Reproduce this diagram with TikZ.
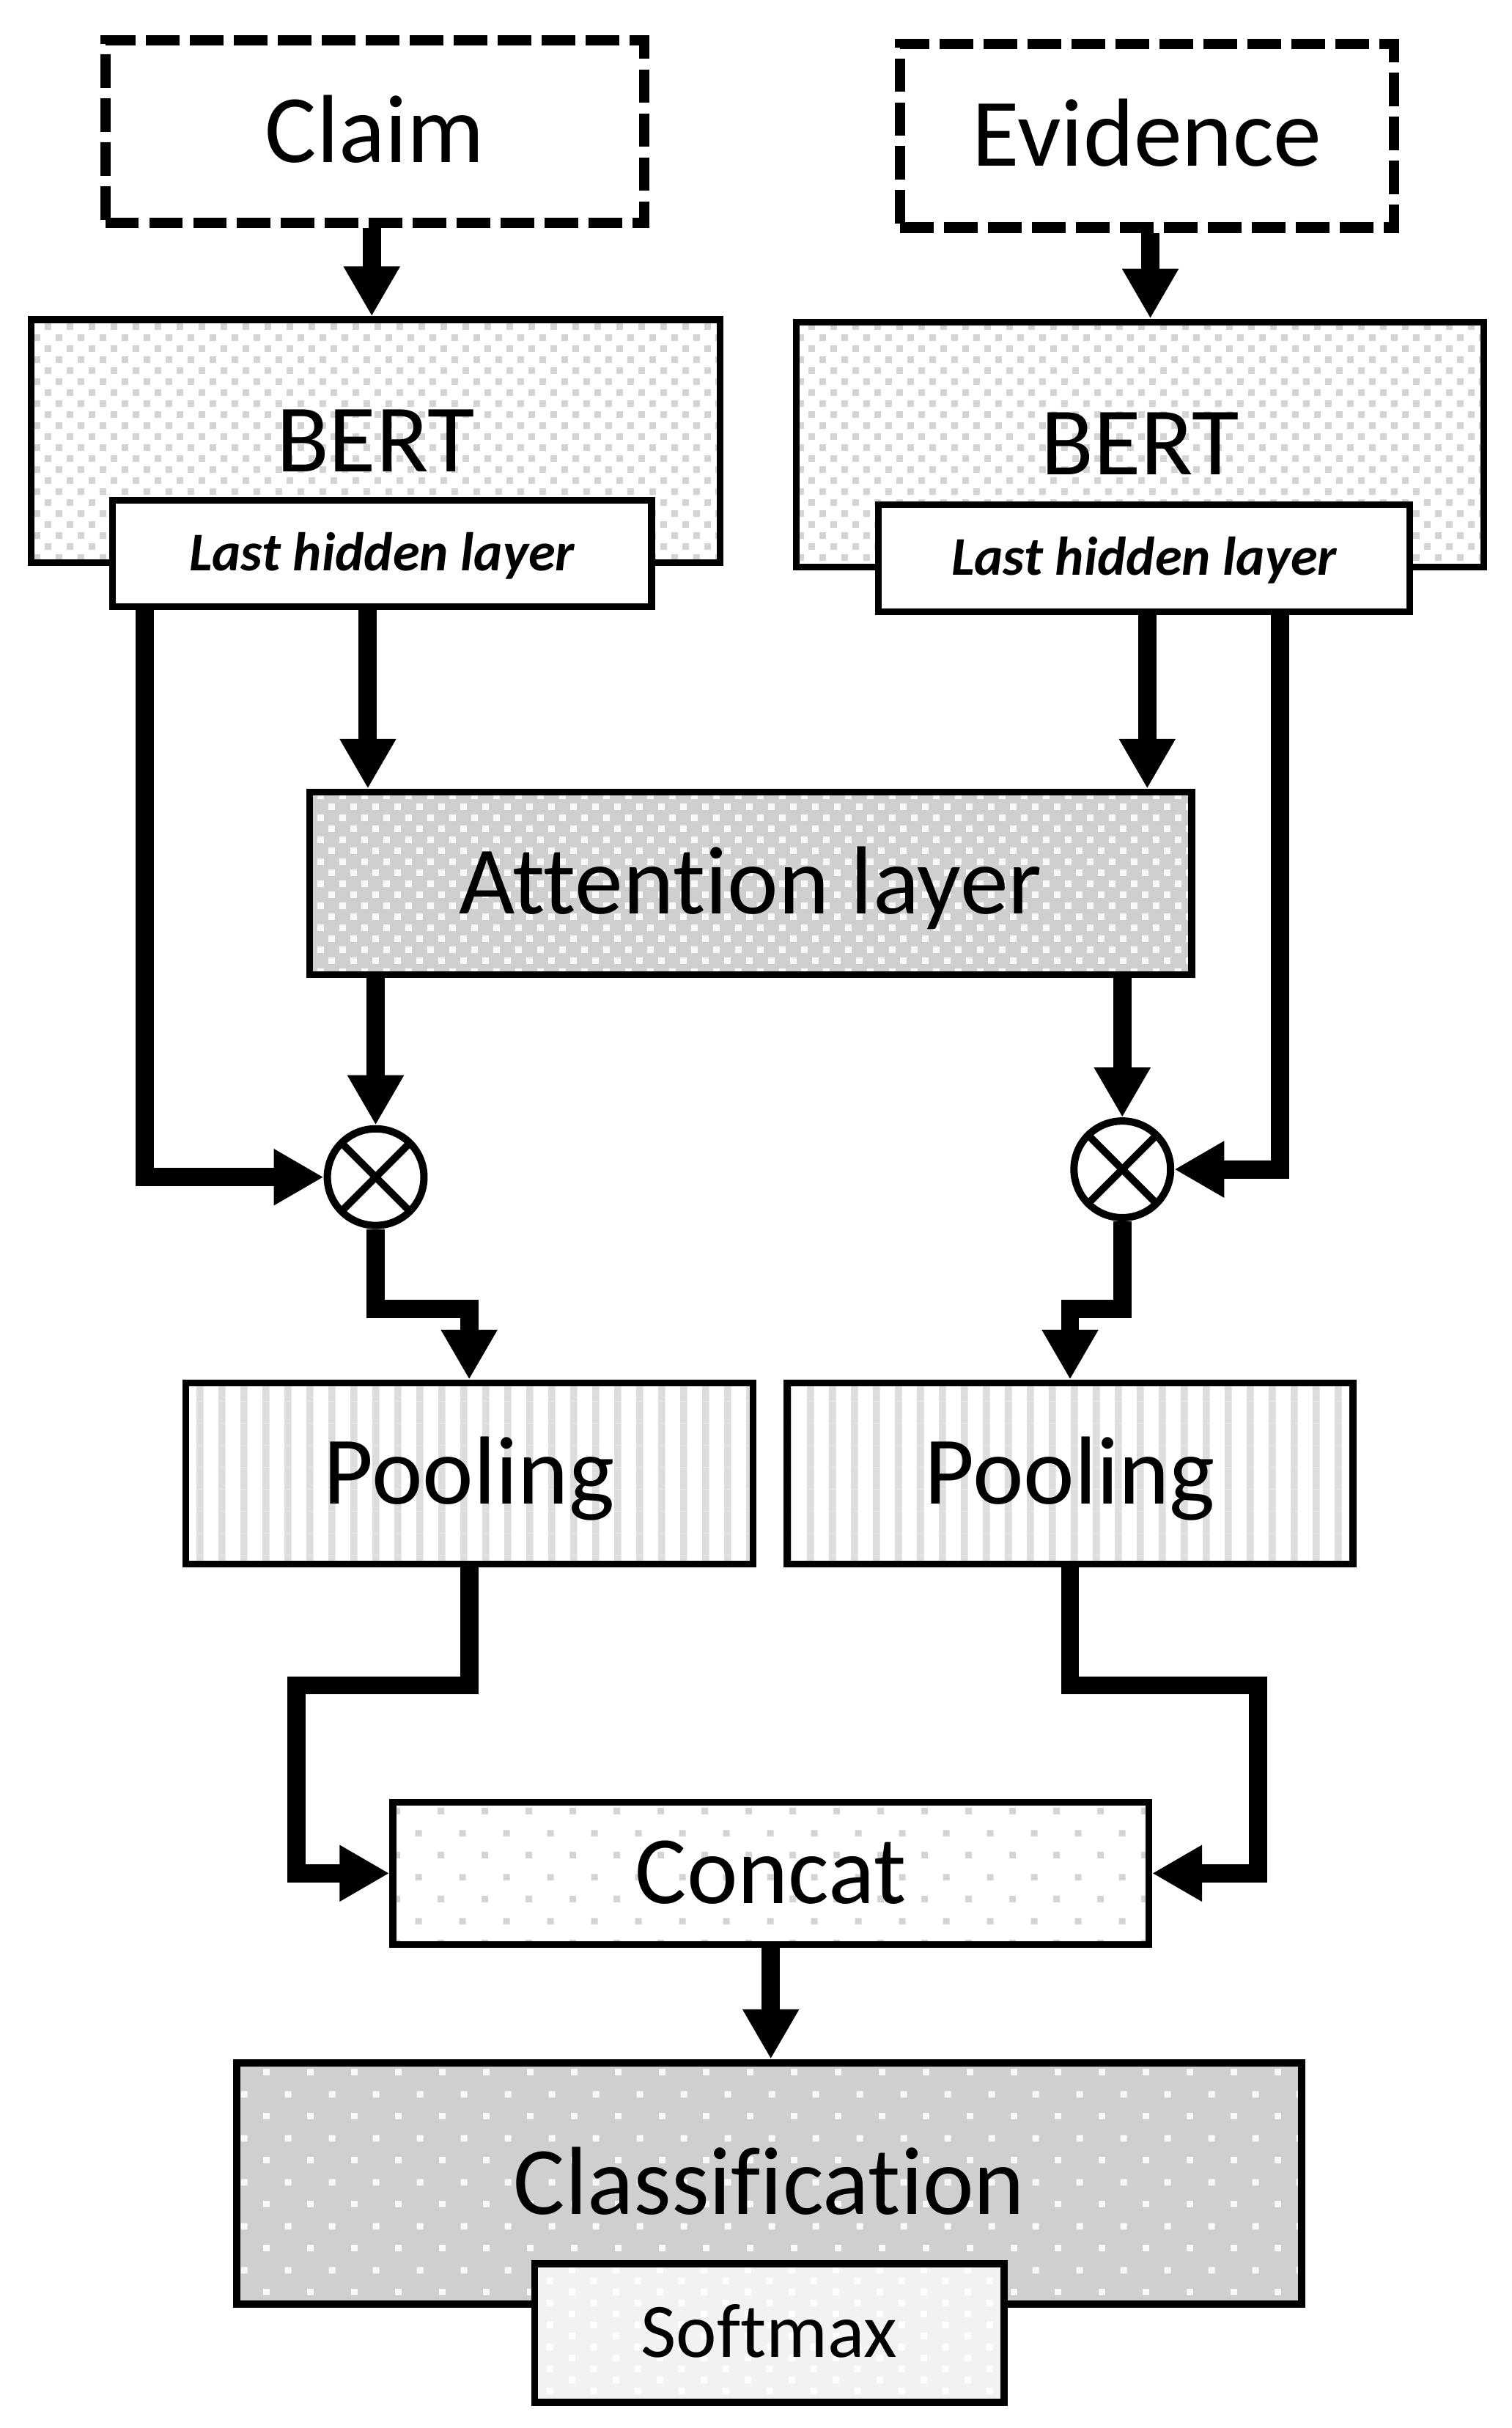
\documentclass[tikz,border=0pt]{standalone}
\usepackage{fontspec}
\setmainfont{Carlito}[Ligatures=NoCommon]
\usetikzlibrary{arrows.meta,patterns.meta,calc}

\definecolor{grayA}{HTML}{D0CECE}
\definecolor{grayS}{HTML}{F2F2F2}
\definecolor{dotG}{HTML}{D4D4D4}
\definecolor{stripeG}{HTML}{DDDDDD}
\definecolor{dotW}{HTML}{F8F8F8}

\tikzdeclarepattern{
  name=densedots, type=uncolored,
  bounding box={(0pt,0pt) and (14pt,14pt)},
  tile size={(14pt,14pt)},
  code={\fill (1pt,1pt) rectangle (5.2pt,5.2pt); \fill (8pt,8pt) rectangle (12.2pt,12.2pt);}
}
\tikzdeclarepattern{
  name=sparsedots, type=uncolored,
  bounding box={(0pt,0pt) and (28pt,28pt)},
  tile size={(28pt,28pt)},
  code={\fill (1pt,1pt) rectangle (5.2pt,5.2pt); \fill (15pt,15pt) rectangle (19.2pt,19.2pt);}
}
\tikzdeclarepattern{
  name=middots, type=uncolored,
  bounding box={(0pt,0pt) and (28pt,14pt)},
  tile size={(28pt,14pt)},
  code={\fill (1pt,1pt) rectangle (5.2pt,5.2pt); \fill (15pt,8pt) rectangle (19.2pt,12.2pt);}
}
\tikzdeclarepattern{
  name=vstripes, type=uncolored,
  bounding box={(0pt,0pt) and (14pt,14pt)},
  tile size={(14pt,14pt)},
  code={\fill (0pt,0pt) rectangle (4.6pt,14pt);}
}

\tikzset{
  bx/.style={draw, line width=4.3pt, rectangle, inner sep=0pt},
  bigtext/.style={font=\fontsize{62}{70}\selectfont, text height=39pt, text depth=0pt},
  inbox/.style={bx, bigtext, line width=6.6pt, dash pattern=on 21.5pt off 6.7pt, fill=white},
  bertbox/.style={bx, bigtext, preaction={fill=white}, preaction={pattern=densedots, pattern color=dotG}},
  lhlbox/.style={bx, fill=white, font=\fontsize{35}{40}\selectfont\bfseries\itshape, text height=22pt, text depth=0pt},
  attbox/.style={bx, bigtext, preaction={fill=grayA}, preaction={pattern=densedots, pattern color=dotW}},
  poolbox/.style={bx, bigtext, preaction={fill=white}, preaction={pattern=vstripes, pattern color=stripeG}},
  catbox/.style={bx, bigtext, preaction={fill=white}, preaction={pattern=sparsedots, pattern color=dotG}},
  clsbox/.style={bx, bigtext, line width=4.6pt, preaction={fill=grayA}, preaction={pattern=sparsedots, pattern color=dotW}},
  smbox/.style={bx, line width=4.6pt, preaction={fill=grayS}, preaction={pattern=middots, pattern color=white}, font=\fontsize{49.4}{55}\selectfont, text height=31pt, text depth=0pt},
  mult/.style={circle, draw, line width=4.7pt, fill=white, minimum size=62pt, inner sep=0pt},
  xline/.style={line width=4.7pt},
  conn/.style={line width=11.7pt, -{Triangle[width=34pt,length=32pt]}}
}

\begin{document}
\begin{tikzpicture}[x=1pt,y=-1pt]
\useasboundingbox (0,0) rectangle (970,1557.3);

% input boxes
\node[inbox, minimum width=346pt, minimum height=117pt] (claim) at (240.5,84.5) {Claim};
\node[inbox, minimum width=317pt, minimum height=118pt] (evid) at (736,87) {Evidence};

% BERT encoders
\node[bertbox, minimum width=442pt, minimum height=156pt] (bertL) at (241,283) {BERT};
\node[bertbox, minimum width=441pt, minimum height=157pt] (bertR) at (731.5,285) {BERT};
\node[lhlbox, minimum width=346pt, minimum height=68.5pt] (lhlL) at (245,355) {Last hidden layer};
\node[lhlbox, minimum width=341pt, minimum height=68.5pt] (lhlR) at (734,358) {Last hidden layer};

% attention
\node[attbox, minimum width=566pt, minimum height=117pt] (att) at (481.5,566.5) {Attention layer};

% multiplication nodes
\node[mult] (cL) at (241,755) {};
\node[mult] (cR) at (720,750) {};
\draw[xline] ($(cL)+(45:30)$) -- ($(cL)+(225:30)$);
\draw[xline] ($(cL)+(135:30)$) -- ($(cL)+(315:30)$);
\draw[xline] ($(cR)+(45:30)$) -- ($(cR)+(225:30)$);
\draw[xline] ($(cR)+(135:30)$) -- ($(cR)+(315:30)$);

% pooling
\node[poolbox, minimum width=364pt, minimum height=116pt] (poolL) at (301,945) {Pooling};
\node[poolbox, minimum width=363pt, minimum height=116pt] (poolR) at (686.5,945) {Pooling};

% concat, classification
\node[catbox, minimum width=485pt, minimum height=91pt] (concat) at (494.5,1201.5) {Concat};
\node[clsbox, minimum width=683pt, minimum height=155pt] (class) at (493.5,1400.5) {Classification};
\node[smbox, minimum width=301pt, minimum height=89pt] (soft) at (493.5,1496.5) {Softmax};

% helper coordinates for connector routes
\coordinate (xcl) at (238.5,0);
\coordinate (xev) at (738,0);
\coordinate (a1) at (236,0);
\coordinate (a2) at (736,0);
\coordinate (xa) at (93,0);
\coordinate (xb) at (821,0);
\coordinate (yb) at (0,839.5);
\coordinate (yc) at (0,1081);
\coordinate (xc) at (190,0);
\coordinate (xd) at (807,0);

% connectors
\draw[conn] (claim.south -| xcl) -- (bertL.north -| xcl);
\draw[conn] (evid.south -| xev) -- (bertR.north -| xev);

\draw[conn] (lhlL.south -| a1) -- (att.north -| a1);
\draw[conn] (lhlR.south -| a2) -- (att.north -| a2);

\draw[conn] (lhlL.south -| xa) -- (xa |- cL) -- (cL.west);
\draw[conn] (lhlR.south -| xb) -- (xb |- cR) -- (cR.east);

\draw[conn] (att.south -| cL) -- (cL.north);
\draw[conn] (att.south -| cR) -- (cR.north);

\draw[conn] (cL.south) -- (cL |- yb) -- (poolL.north |- yb) -- (poolL.north);
\draw[conn] (cR.south) -- (cR |- yb) -- (poolR.north |- yb) -- (poolR.north);

\draw[conn] (poolL.south) -- (poolL.south |- yc) -- (xc |- yc) -- (xc |- concat.west) -- (concat.west);
\draw[conn] (poolR.south) -- (poolR.south |- yc) -- (xd |- yc) -- (xd |- concat.east) -- (concat.east);

\draw[conn] (concat.south) -- (class.north -| concat.south);
\end{tikzpicture}
\end{document}
